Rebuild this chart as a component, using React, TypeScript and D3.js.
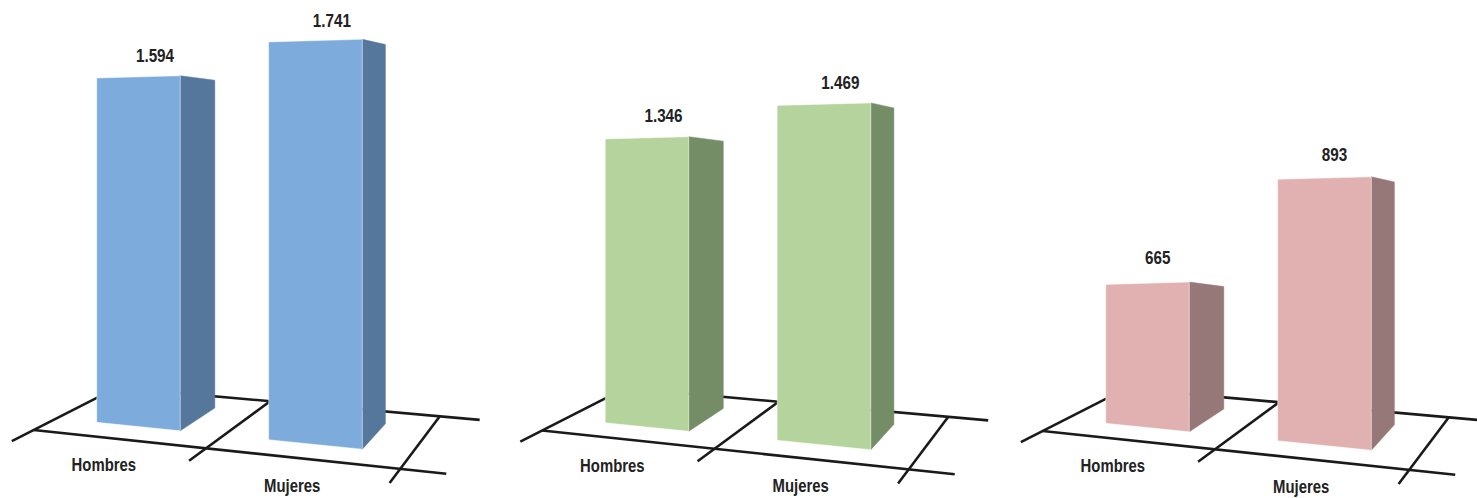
import React from 'react';
import * as d3 from 'd3';

// ---- data ----
const categories = ['Hombres', 'Mujeres'];
const valuesPanel1 = [1594, 1741];
const valuesPanel2 = [1346, 1469];
const valuesPanel3 = [665, 893];
const panelValues = [valuesPanel1, valuesPanel2, valuesPanel3];
// value-axis extent of each of the three small charts
const axisMin = [0, 275, 372];
const axisMax = [2000, 1905, 1283];

// ---- styles ----
const frontColors = ['#7DACDC', '#B5D39C', '#E1B1B1'];
const sideColors = ['#55779B', '#758D66', '#977879'];
const lineColor = '#1a1a1a';
const textColor = '#222222';
const fontFamily = "'Liberation Sans', Arial, sans-serif";

// ---- 3D layout (perspective projection of the floor) ----
const W = 1477;
const H = 498;
const VX = [-2867, 122]; // vanishing point of category direction
const VZ = [676, 103]; // vanishing point of depth direction
const ORIGIN = [33.6, 430]; // front-left floor corner
const A = -0.0561;
const C = 0.149;
const panelOffsets = [
  [0, 0],
  [508.5, 0.5],
  [1009, 1],
];
const WORLD_H = 442;
const CEIL_H = 390; // height of the plane whose shape the bar tops follow
const TICK_EXT = 0.22;
const BAR_Z = [0.25, 0.75];

function project(X: number, Z: number, h: number, p: number) {
  const u = A * X;
  const v = C * Z;
  const w = 1 + u + v;
  const x = (u * VX[0] + v * VZ[0] + ORIGIN[0]) / w + panelOffsets[p][0];
  const y = (u * VX[1] + v * VZ[1] + ORIGIN[1]) / w + panelOffsets[p][1];
  return [x, y - h / w];
}

const fmt = d3.formatLocale({
  decimal: ',',
  thousands: '.',
  grouping: [3],
  currency: ['', ''],
}).format(',d');

function Panel({ p }: { p: number }) {
  const values = panelValues[p];
  const xBand = d3
    .scaleBand<string>()
    .domain(categories)
    .range([0, 2])
    .paddingInner(0.5)
    .paddingOuter(0.25);
  const yScale = d3.scaleLinear().domain([axisMin[p], axisMax[p]]).range([0, WORLD_H]);
  const line = d3.line<number[]>().x((d) => d[0]).y((d) => d[1]);
  const step = xBand.step();
  const xEdges = d3.range(categories.length + 1).map((i) => i * step);
  const xEnd = xEdges[xEdges.length - 1] + TICK_EXT;

  const floorLines: number[][][] = [
    [project(0, 0, 0, p), project(xEnd, 0, 0, p)],
    [project(0, 1, 0, p), project(xEnd, 1, 0, p)],
    ...xEdges.map((X) => [project(X, -TICK_EXT, 0, p), project(X, 1, 0, p)]),
  ];

  const poly = (pts: number[][]) => line([...pts, pts[0]]) || '';

  return (
    <g>
      {floorLines.map((pts, i) => (
        <path
          key={'l' + i}
          d={line(pts) || ''}
          stroke={lineColor}
          strokeWidth={2.6}
          fill="none"
          strokeLinecap="butt"
        />
      ))}
      {categories.map((cat, i) => {
        const x0 = xBand(cat) as number;
        const x1 = x0 + xBand.bandwidth();
        const h = yScale(values[i]);
        const [z0, z1] = BAR_Z;
        const topRef = project(x0, z0, h, p)[1];
        const ceilRef = project(x0, z0, CEIL_H, p)[1];
        const top = (X: number, Z: number) => [
          project(X, Z, 0, p)[0],
          topRef + project(X, Z, CEIL_H, p)[1] - ceilRef,
        ];
        const front = [project(x0, z0, 0, p), project(x1, z0, 0, p), top(x1, z0), top(x0, z0)];
        const side = [project(x1, z0, 0, p), project(x1, z1, 0, p), top(x1, z1), top(x1, z0)];
        const xc = x0 + xBand.bandwidth() / 2;
        const labelX = project(xc, z0, 0, p)[0] - 2;
        const labelY = project(xc, (z0 + z1) / 2, h, p)[1] - 16;
        return (
          <g key={cat}>
            <path d={poly(side)} fill={sideColors[p]} stroke={sideColors[p]} strokeWidth={0.5} />
            <path d={poly(front)} fill={frontColors[p]} stroke="rgba(255,255,255,0.55)" strokeWidth={0.8} />
            <text
              transform={`translate(${labelX},${labelY}) scale(0.82,1)`}
              fontFamily={fontFamily}
              fontWeight="bold"
              fontSize={18.6}
              fill={textColor}
              textAnchor="start"
            >
              {fmt(values[i])}
            </text>
          </g>
        );
      })}
      {categories.map((cat) => {
        const xc = (xBand(cat) as number) + xBand.bandwidth() / 2;
        const [lx, ly] = project(xc, -TICK_EXT, 0, p);
        return (
          <text
            key={'c' + cat}
            transform={`translate(${lx + 6},${ly + 20.5}) scale(0.8,1)`}
            fontFamily={fontFamily}
            fontWeight="bold"
            fontSize={18.6}
            fill={textColor}
            textAnchor="middle"
          >
            {cat}
          </text>
        );
      })}
    </g>
  );
}

export default function App() {
  return (
    <svg
      width={W}
      height={H}
      viewBox={`0 0 ${W} ${H}`}
      style={{ position: 'absolute', left: 0, top: 0, display: 'block', background: '#ffffff' }}
    >
      <rect x={0} y={0} width={W} height={H} fill="#ffffff" />
      {panelValues.map((_, p) => (
        <Panel key={p} p={p} />
      ))}
    </svg>
  );
}
